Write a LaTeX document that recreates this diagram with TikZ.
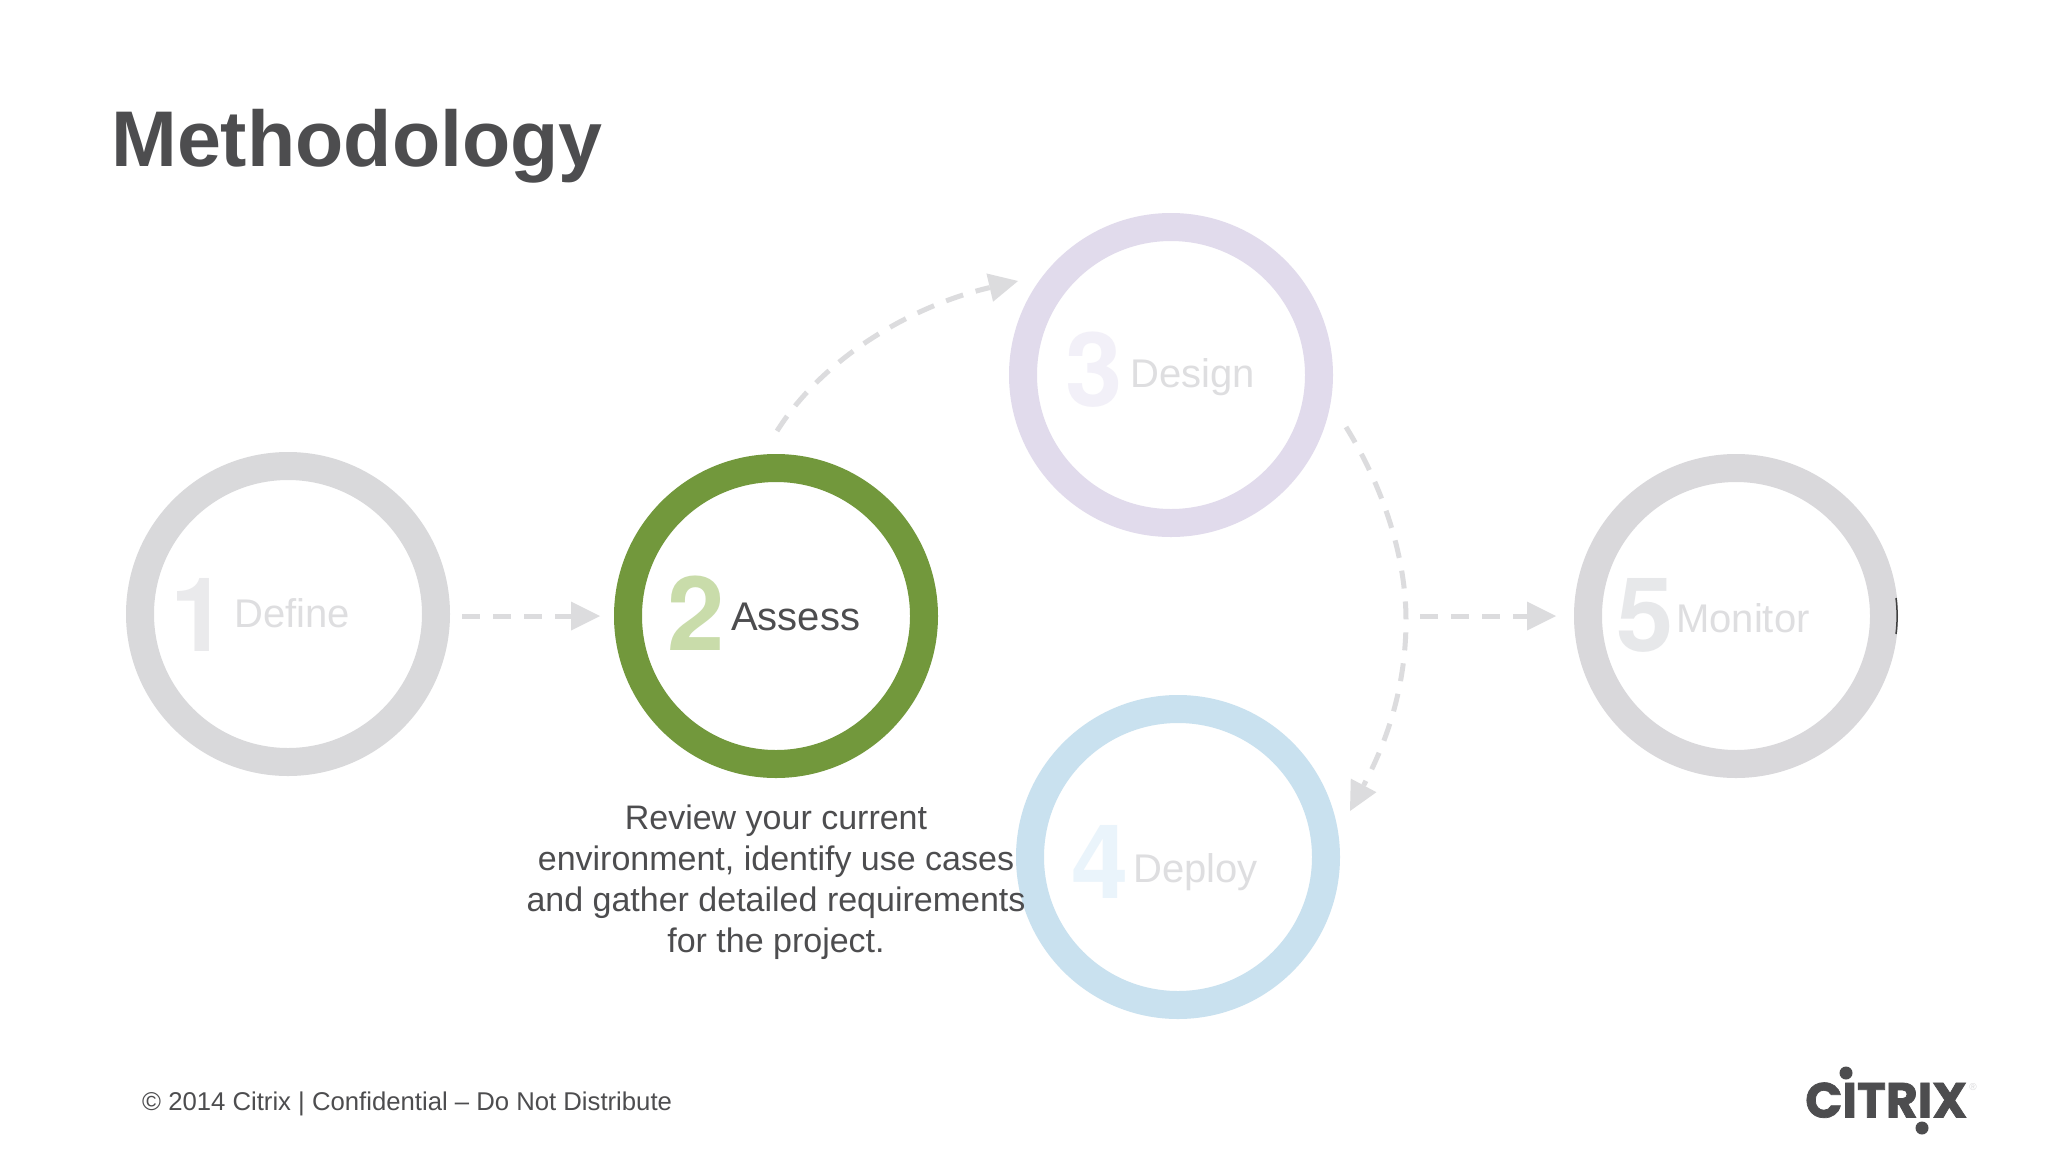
\documentclass[tikz,border=0pt]{standalone}
\usepackage{fontspec}
\setmainfont{Liberation Sans}
\newfontfamily\logofont[BoldFeatures={FakeBold=1.5}]{Poppins}
\newfontfamily\digitfont{TeX Gyre Heros}
\usetikzlibrary{arrows.meta}
\definecolor{ink}{HTML}{4D4D4F}
\definecolor{arrowgray}{HTML}{DCDCDE}
\definecolor{labelgray}{HTML}{DEDEE0}
\definecolor{ringone}{HTML}{D9D9DB}
\definecolor{ringtwo}{HTML}{72983C}
\definecolor{ringthree}{HTML}{E1DBEC}
\definecolor{ringfour}{HTML}{C9E1EF}
\definecolor{ringfive}{HTML}{D9D8DB}
\definecolor{numone}{HTML}{EAEAEC}
\definecolor{numtwo}{HTML}{C9DCAA}
\definecolor{numthree}{HTML}{F2F0F8}
\definecolor{numfour}{HTML}{EAF4FB}
\definecolor{numfive}{HTML}{E7E8EA}
\tikzset{
  ring/.style={circle,draw=#1,line width=28pt,minimum size=296pt,inner sep=0pt,outer sep=14pt},
  numeral/.style={anchor=base west,inner sep=0pt,text=#1,font=\fontsize{103}{103}\selectfont\digitfont\bfseries},
  steplabel/.style={anchor=base west,inner sep=0pt,text=#1,font=\fontsize{40}{40}\selectfont},
  flow/.style={draw=arrowgray,line width=5pt,dash pattern=on 18pt off 13pt,
    -{Triangle[length=29pt,width=29pt,line width=0pt]}}
}
\begin{document}
\begin{tikzpicture}[x=1pt,y=-1pt]
\useasboundingbox (0,0) rectangle (2048,1152);
\fill[white] (0,0) rectangle (2048,1152);
\node[anchor=base west,inner sep=0pt,text=ink,font=\fontsize{79}{79}\selectfont\bfseries] (title) at (111,166) {Methodology};
\node[ring=ringone] (n1) at (288,614) {};
\node[ring=ringtwo] (n2) at (776,616) {};
\node[ring=ringthree] (n3) at (1171,375) {};
\node[ring=ringfour] (n4) at (1178,857) {};
\node[ring=ringfive] (n5) at (1736,616) {};
\draw[black!75,line width=1.5pt] (1896,598) .. controls (1897.5,610) and (1897.5,622) .. (1896,634);
\node[numeral=numone] (d1) at (170,651) {1};
\node[numeral=numtwo] (d2) at (667,650) {2};
\node[numeral=numthree] (d3) at (1065,406) {3};
\node[numeral=numfour] (d4) at (1071,898) {4};
\node[numeral=numfive] (d5) at (1616,651) {5};
\node[steplabel=labelgray] (l1) at (234,627) {Define};
\node[steplabel=ink] (l2) at (731,630) {Assess};
\node[steplabel=labelgray] (l3) at (1130,387) {Design};
\node[steplabel=labelgray] (l4) at (1133,882) {Deploy};
\node[steplabel=labelgray] (l5) at (1676,632) {Monitor};
\coordinate (s23) at (777,431);
\coordinate (e23) at (1018,281);
\coordinate (s34) at (1346,427);
\coordinate (m34) at (1406,620);
\coordinate (e34) at (1350,811);
\coordinate (j45) at (1406,616);
\draw[flow,shorten <=12pt,shorten >=14pt] (n1.east |- n2.east) -- (n2.west);
\draw[flow] (s23) .. controls (825,355) and (915,305) .. (e23);
\draw[flow] (s34) .. controls (1385,490) and (1406,560) .. (m34) .. controls (1406,690) and (1385,745) .. (e34);
\draw[flow,shorten <=14pt,shorten >=18pt] (j45) -- (n5.west);
\node[anchor=north,inner sep=0pt,align=center,text=ink,font=\fontsize{34}{41}\selectfont] (desc) at (776,805) {Review your current\\environment, identify use cases\\and gather detailed requirements\\for the project.};
\node[anchor=base west,inner sep=0pt,text=ink,font=\fontsize{25.7}{26}\selectfont] (foot) at (142,1110) {© 2014 Citrix | Confidential – Do Not Distribute};
\node[anchor=south west,inner sep=0pt,text=ink] (logo) at (1805,1118) {\resizebox{162pt}{35pt}{\logofont\bfseries CITRIX}};
\fill[ink] (1846,1073) circle (6.5);
\fill[ink] (1922,1128) circle (6.5);
\node[inner sep=0pt,text=ringone,font=\fontsize{10}{10}\selectfont] (reg) at (1973,1087) {®};
\end{tikzpicture}
\end{document}
